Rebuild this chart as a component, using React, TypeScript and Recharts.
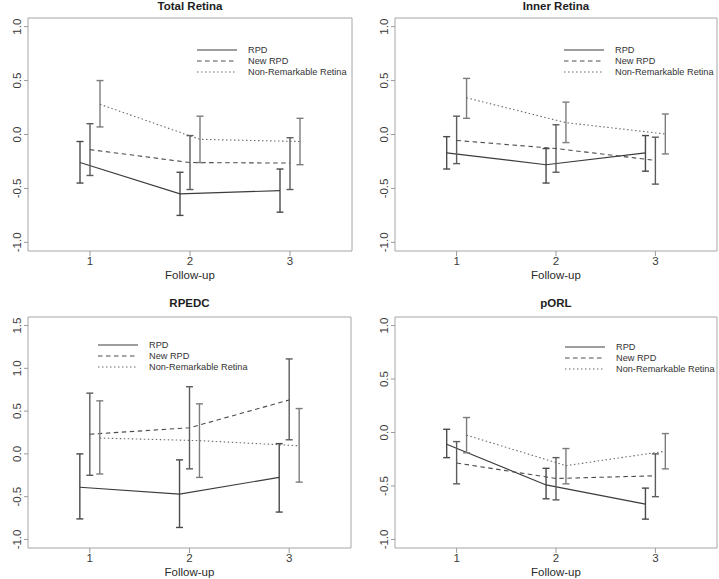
import { ComposedChart, ErrorBar, Legend, Line, ReferenceArea, XAxis, YAxis } from "recharts"

const followUp = [1, 2, 3]
const groupNames = ["RPD", "New RPD", "Non-Remarkable Retina"]
const unitTicks = [-1, -0.5, 0, 0.5, 1]
const rpedcTicks = [-1, -0.5, 0, 0.5, 1, 1.5]

// mean change at each follow-up, and [lower, upper] end of each error bar
const totalRpd = [-0.26, -0.55, -0.52]
const totalRpdCi = [[-0.45, -0.065], [-0.75, -0.35], [-0.72, -0.32]]
const totalNew = [-0.14, -0.26, -0.265]
const totalNewCi = [[-0.38, 0.1], [-0.51, -0.01], [-0.51, -0.03]]
const totalNrr = [0.28, -0.045, -0.065]
const totalNrrCi = [[0.07, 0.5], [-0.26, 0.17], [-0.28, 0.15]]

const innerRpd = [-0.17, -0.28, -0.17]
const innerRpdCi = [[-0.32, -0.02], [-0.45, -0.13], [-0.34, -0.01]]
const innerNew = [-0.055, -0.13, -0.24]
const innerNewCi = [[-0.27, 0.17], [-0.35, 0.09], [-0.46, -0.025]]
const innerNrr = [0.34, 0.11, 0.005]
const innerNrrCi = [[0.15, 0.52], [-0.075, 0.3], [-0.18, 0.19]]

const rpedcRpd = [-0.39, -0.47, -0.275]
const rpedcRpdCi = [[-0.76, 0.0], [-0.86, -0.07], [-0.68, 0.12]]
const rpedcNew = [0.23, 0.305, 0.63]
const rpedcNewCi = [[-0.25, 0.71], [-0.175, 0.785], [0.165, 1.11]]
const rpedcNrr = [0.185, 0.155, 0.095]
const rpedcNrrCi = [[-0.235, 0.62], [-0.275, 0.585], [-0.33, 0.53]]

const porlRpd = [-0.11, -0.49, -0.67]
const porlRpdCi = [[-0.235, 0.03], [-0.62, -0.335], [-0.81, -0.52]]
const porlNew = [-0.285, -0.43, -0.405]
const porlNewCi = [[-0.48, -0.085], [-0.63, -0.235], [-0.6, -0.2]]
const porlNrr = [-0.025, -0.31, -0.175]
const porlNrrCi = [[-0.19, 0.14], [-0.48, -0.15], [-0.34, -0.01]]

const FONT = '"Liberation Sans", Arial, Helvetica, sans-serif'

// RPD slightly left of each visit, non-remarkable slightly right
const groupStyles = [
  { shift: -0.1, stroke: "#3c3c3c", dash: undefined, bar: "#4a4a4a" },
  { shift: 0, stroke: "#4c4c4c", dash: "4.5 3.5", bar: "#5c5c5c" },
  { shift: 0.1, stroke: "#6c6c6c", dash: "1.5 2.5", bar: "#7c7c7c" },
]

type Box = { left: number; top: number; width: number; height: number }
type Plot = { left: number; top: number; right: number; bottom: number }
type PanelConfig = {
  title: string
  means: number[][]
  cis: number[][][]
  ticks: number[]
  frame: Box
  plot: Plot
  legend: { x: number; y: number }
  titleY: number
}

const panels: PanelConfig[] = [
  {
    title: "Total Retina",
    means: [totalRpd, totalNew, totalNrr],
    cis: [totalRpdCi, totalNewCi, totalNrrCi],
    ticks: unitTicks,
    frame: { left: 0, top: 0, width: 360, height: 290 },
    plot: { left: 28, top: 18, right: 352, bottom: 251 },
    legend: { x: 197, y: 50 },
    titleY: 6,
  },
  {
    title: "Inner Retina",
    means: [innerRpd, innerNew, innerNrr],
    cis: [innerRpdCi, innerNewCi, innerNrrCi],
    ticks: unitTicks,
    frame: { left: 360, top: 0, width: 359, height: 290 },
    plot: { left: 395, top: 18, right: 717, bottom: 251 },
    legend: { x: 204, y: 49.5 },
    titleY: 6,
  },
  {
    title: "RPEDC",
    means: [rpedcRpd, rpedcNew, rpedcNrr],
    cis: [rpedcRpdCi, rpedcNewCi, rpedcNrrCi],
    ticks: rpedcTicks,
    frame: { left: 0, top: 290, width: 360, height: 289 },
    plot: { left: 28, top: 317, right: 351, bottom: 548 },
    legend: { x: 98, y: 55 },
    titleY: 13,
  },
  {
    title: "pORL",
    means: [porlRpd, porlNew, porlNrr],
    cis: [porlRpdCi, porlNewCi, porlNrrCi],
    ticks: unitTicks,
    frame: { left: 360, top: 290, width: 359, height: 289 },
    plot: { left: 395, top: 317, right: 717, bottom: 548 },
    legend: { x: 205, y: 57 },
    titleY: 13,
  },
]

function rowsFor(mean: number[], ci: number[][], shift: number) {
  return followUp.map((f, i) => ({
    x: f + shift,
    y: mean[i],
    err: [mean[i] - ci[i][0], ci[i][1] - mean[i]],
  }))
}

function XTick(props: any) {
  const { x, y, payload } = props
  return (
    <text x={x} y={y + 3} textAnchor="middle" dominantBaseline="central" fontSize={11.5} fontFamily={FONT} fill="#3a3a3a">
      {payload.value}
    </text>
  )
}

function YTick(props: any) {
  const { x, y, payload } = props
  const cx = x - 5
  return (
    <text
      x={cx}
      y={y}
      transform={`rotate(-90 ${cx} ${y})`}
      textAnchor="middle"
      dominantBaseline="central"
      fontSize={11.5}
      fontFamily={FONT}
      fill="#3a3a3a"
    >
      {Number(payload.value).toFixed(1)}
    </text>
  )
}

function FollowUpLabel(props: any) {
  const vb = props.viewBox
  if (!vb) return null
  return (
    <text x={vb.x + vb.width / 2} y={vb.y + 24} textAnchor="middle" dominantBaseline="central" fontSize={11.5} fontFamily={FONT} fill="#2a2a2a">
      Follow-up
    </text>
  )
}

function GroupLegend() {
  return (
    <svg width={150} height={36} style={{ display: "block", overflow: "visible" }}>
      {groupNames.map((name, i) => {
        const st = groupStyles[i]
        const y = 6 + i * 11
        return (
          <g key={name}>
            <line x1={0} x2={40} y1={y} y2={y} stroke={st.stroke} strokeWidth={1.1} strokeDasharray={st.dash} />
            <text x={51} y={y} dominantBaseline="central" fontSize={9.2} fontFamily={FONT} fill="#333">
              {name}
            </text>
          </g>
        )
      })}
    </svg>
  )
}

function Panel({ cfg }: { cfg: PanelConfig }) {
  const { frame, plot } = cfg
  const lo = cfg.ticks[0]
  const hi = cfg.ticks[cfg.ticks.length - 1]
  const yPad = (hi - lo) * 0.04
  const yDomain = [lo - yPad, hi + yPad]
  const xPad = (3.5 - 0.5) * 0.04
  const xDomain = [0.5 - xPad, 3.5 + xPad]
  const margin = {
    top: plot.top - frame.top,
    right: frame.left + frame.width - plot.right,
    bottom: 0,
    left: 0,
  }
  return (
    <div style={{ position: "absolute", left: frame.left, top: frame.top, width: frame.width, height: frame.height }}>
      <div
        style={{
          position: "absolute",
          left: plot.left - frame.left,
          width: plot.right - plot.left,
          top: cfg.titleY - 7,
          lineHeight: "14px",
          textAlign: "center",
          fontFamily: FONT,
          fontWeight: "bold",
          fontSize: 11.5,
          color: "#1e1e1e",
        }}
      >
        {cfg.title}
      </div>
      <ComposedChart width={frame.width} height={frame.height} margin={margin}>
        <XAxis
          type="number"
          dataKey="x"
          domain={xDomain}
          ticks={followUp}
          allowDataOverflow
          axisLine={false}
          tickLine={{ stroke: "#9a9a9a" }}
          tickSize={5}
          height={frame.top + frame.height - plot.bottom}
          tick={<XTick />}
          label={<FollowUpLabel />}
        />
        <YAxis
          type="number"
          domain={yDomain}
          ticks={cfg.ticks}
          allowDataOverflow
          axisLine={false}
          tickLine={{ stroke: "#9a9a9a" }}
          tickSize={4}
          width={plot.left - frame.left}
          tick={<YTick />}
        />
        <ReferenceArea
          x1={xDomain[0]}
          x2={xDomain[1]}
          y1={yDomain[0]}
          y2={yDomain[1]}
          fill="none"
          fillOpacity={0}
          stroke="#a6a6a6"
          strokeWidth={1}
          ifOverflow="visible"
        />
        {groupNames.map((name, i) => {
          const st = groupStyles[i]
          return (
            <Line
              key={name}
              name={name}
              data={rowsFor(cfg.means[i], cfg.cis[i], st.shift)}
              dataKey="y"
              type="linear"
              stroke={st.stroke}
              strokeWidth={1.1}
              strokeDasharray={st.dash}
              dot={false}
              activeDot={false}
              isAnimationActive={false}
            >
              <ErrorBar dataKey="err" direction="y" width={3.5} stroke={st.bar} strokeWidth={1.4} isAnimationActive={false} />
            </Line>
          )
        })}
        <Legend
          layout="vertical"
          align="center"
          verticalAlign="middle"
          content={<GroupLegend />}
          wrapperStyle={{ left: cfg.legend.x, top: cfg.legend.y - 6, width: 150, height: 36 }}
        />
      </ComposedChart>
    </div>
  )
}

export default function App() {
  return (
    <div style={{ position: "absolute", left: 0, top: 0, width: 719, height: 579, background: "#fff" }}>
      {panels.map((p) => (
        <Panel key={p.title} cfg={p} />
      ))}
    </div>
  )
}
